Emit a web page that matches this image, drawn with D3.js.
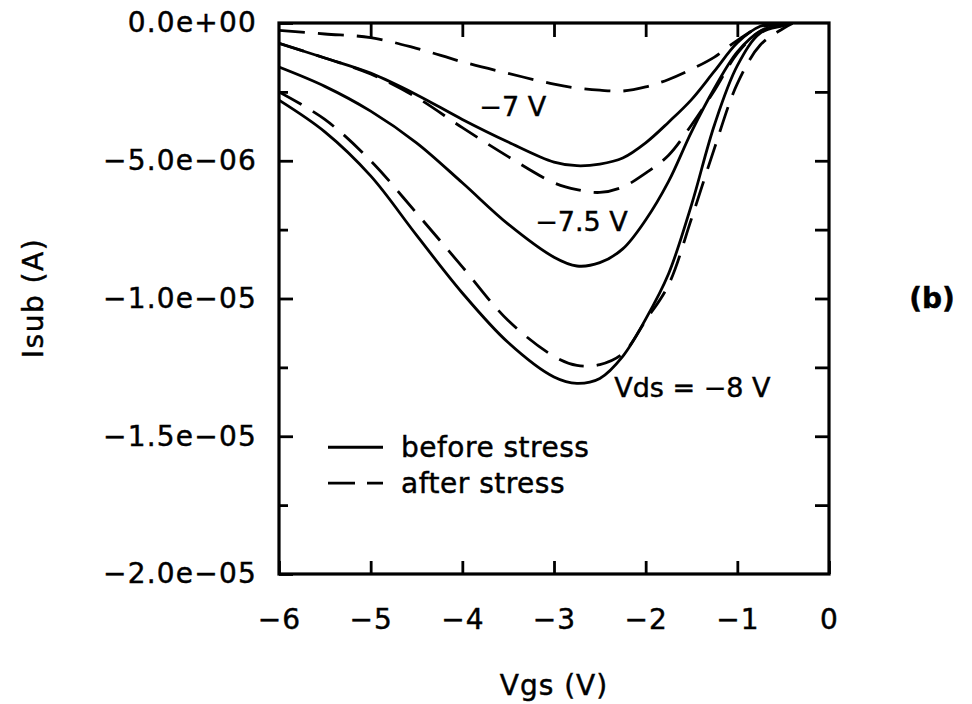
<!DOCTYPE html>
<html>
<head>
<meta charset="utf-8">
<script src="https://cdn.jsdelivr.net/npm/d3@7"></script>
<style>
  body { margin: 0; background: #fff; }
  text { font-family: "DejaVu Sans", sans-serif; fill: #000; stroke: #000; stroke-width: 0.45; }
</style>
</head>
<body>
<script>
// Vgs sample points (V)
var vgs = [-6, -5.5, -5, -4.5, -4, -3.5, -3, -2.75, -2.5, -2.25, -2, -1.75, -1.5, -1.25, -1, -0.75, -0.5, -0.4];

// Isub in microamps
var before7  = [-0.74, -1.27, -1.82, -2.6, -3.5, -4.32, -5.05, -5.18, -5.12, -4.9, -4.35, -3.6, -2.78, -1.75, -0.72, -0.12, -0.03, 0];
var after7   = [-0.27, -0.4, -0.53, -0.92, -1.41, -1.83, -2.22, -2.36, -2.44, -2.47, -2.32, -2.05, -1.68, -1.24, -0.63, -0.15, -0.05, 0];
var before75 = [-1.6, -2.3, -3.2, -4.35, -5.8, -7.3, -8.5, -8.82, -8.7, -8.2, -7.15, -5.75, -3.95, -2.37, -1.05, -0.3, -0.05, 0];
var after75  = [-0.74, -1.27, -1.85, -2.7, -3.8, -4.85, -5.8, -6.05, -6.15, -5.95, -5.45, -4.8, -3.7, -2.45, -1.1, -0.3, -0.04, 0];
var before8  = [-2.8, -3.95, -5.55, -7.7, -9.8, -11.6, -12.85, -13.08, -12.9, -12.1, -10.75, -9.1, -6.6, -3.7, -1.55, -0.37, -0.1, 0];
var after8   = [-2.5, -3.5, -5.0, -6.9, -8.85, -10.8, -12.1, -12.43, -12.4, -12.0, -10.8, -9.5, -7.1, -4.55, -2.2, -0.8, -0.2, -0.02];

var xTicks = [-6, -5, -4, -3, -2, -1, 0];
var yMajor = [0, -5e-6, -1e-5, -1.5e-5, -2e-5];
var yMinor = [-2.5e-6, -7.5e-6, -1.25e-5, -1.75e-5];

var series = [
  {vals: after7, dash: true}, {vals: before7, dash: false},
  {vals: after75, dash: true}, {vals: before75, dash: false},
  {vals: after8, dash: true}, {vals: before8, dash: false}
];

var labels = [
  {text: '\u22127 V', v: -3.45, i: -3.05e-6},
  {text: '\u22127.5 V', v: -2.7, i: -7.2e-6},
  {text: 'Vds  =  \u22128 V', v: -1.49, i: -13.25e-6}
];

var W = 972, H = 704;
var padL = 279, padR = 829, padT = 23, padB = 574;

var svg = d3.select('body').append('svg').attr('width', W).attr('height', H);

var x = d3.scaleLinear().domain([-6, 0]).range([padL, padR]);
var y = d3.scaleLinear().domain([-2e-5, 0]).range([padB, padT]);

function sciFmt(v) {
  if (v === 0) return '0.0e+00';
  var s = d3.format('.1e')(Math.abs(v));
  var parts = s.split('e');
  var ex = parseInt(parts[1], 10);
  var es = (ex < 0 ? '\u2212' : '+') + String(Math.abs(ex)).padStart(2, '0');
  return (v < 0 ? '\u2212' : '') + parts[0] + 'e' + es;
}

svg.append('clipPath').attr('id', 'clip')
  .append('rect').attr('x', padL).attr('y', padT).attr('width', padR - padL).attr('height', padB - padT);

// curves
var line = d3.line()
  .x(function(d) { return x(d[0]); })
  .y(function(d) { return y(d[1] * 1e-6); })
  .curve(d3.curveCatmullRom.alpha(0.5));

var curves = svg.append('g').attr('clip-path', 'url(#clip)');
series.forEach(function(s) {
  curves.append('path')
    .attr('d', line(vgs.map(function(v, i) { return [v, s.vals[i]]; })))
    .attr('fill', 'none')
    .attr('stroke', '#000')
    .attr('stroke-width', 2.8)
    .attr('stroke-dasharray', s.dash ? '26,13' : null);
});

// frame
svg.append('rect')
  .attr('x', padL).attr('y', padT).attr('width', padR - padL).attr('height', padB - padT)
  .attr('fill', 'none').attr('stroke', '#000').attr('stroke-width', 3.2);

// x axis with inner ticks, mirrored on top
var xAxis = svg.append('g').attr('transform', 'translate(0,' + padB + ')')
  .call(d3.axisBottom(x).tickValues(xTicks).tickSizeInner(-13).tickSizeOuter(0).tickPadding(35).tickFormat(function(d) { return d === 0 ? '0' : '\u2212' + Math.abs(d); }));
xAxis.select('.domain').remove();
xAxis.selectAll('line').attr('stroke-width', 2.8);
xAxis.selectAll('text').attr('font-size', 28).attr('font-family', 'DejaVu Sans').attr('letter-spacing', 1);

var xTop = svg.append('g').attr('transform', 'translate(0,' + padT + ')')
  .call(d3.axisTop(x).tickValues(xTicks.slice(1, -1)).tickSizeInner(-14).tickSizeOuter(0).tickFormat(''));
xTop.select('.domain').remove();
xTop.selectAll('line').attr('stroke-width', 2.8);

// y axis
var yAxis = svg.append('g').attr('transform', 'translate(' + padL + ',0)')
  .call(d3.axisLeft(y).tickValues(yMajor).tickSizeInner(-14).tickSizeOuter(0).tickPadding(22).tickFormat(sciFmt));
yAxis.select('.domain').remove();
yAxis.selectAll('line').attr('stroke-width', 2.8);
yAxis.selectAll('text').attr('font-size', 28).attr('font-family', 'DejaVu Sans').attr('letter-spacing', 1.2);

var yMin = svg.append('g').attr('transform', 'translate(' + padL + ',0)')
  .call(d3.axisLeft(y).tickValues(yMinor).tickSizeInner(-9).tickSizeOuter(0).tickFormat(''));
yMin.select('.domain').remove();
yMin.selectAll('line').attr('stroke-width', 2.8);

var yRight = svg.append('g').attr('transform', 'translate(' + padR + ',0)')
  .call(d3.axisRight(y).tickValues(yMajor.slice(1, -1).concat(yMinor)).tickSizeInner(-14).tickSizeOuter(0).tickFormat(''));
yRight.select('.domain').remove();
yRight.selectAll('line').attr('stroke-width', 2.8);

// axis titles
svg.append('text')
  .attr('x', x(-3)).attr('y', 685).attr('dy', '0.35em')
  .attr('text-anchor', 'middle').attr('font-size', 28).attr('letter-spacing', 1)
  .text('Vgs (V)');

svg.append('text')
  .attr('transform', 'translate(33,298) rotate(-90)')
  .attr('dy', '0.35em')
  .attr('text-anchor', 'middle').attr('font-size', 28).attr('letter-spacing', 1.5)
  .text('Isub (A)');

svg.append('text')
  .attr('x', 932).attr('y', 298).attr('dy', '0.35em')
  .attr('text-anchor', 'middle').attr('font-size', 28).attr('font-weight', 'bold')
  .text('(b)');

// curve labels
labels.forEach(function(l) {
  svg.append('text')
    .attr('x', x(l.v)).attr('y', y(l.i)).attr('dy', '0.35em')
    .attr('text-anchor', 'middle').attr('font-size', 27)
    .text(l.text);
});

// legend
var legend = [
  {text: 'before stress', dash: false, i: -1.54e-5},
  {text: 'after stress', dash: true, i: -1.67e-5}
];
legend.forEach(function(d) {
  svg.append('line')
    .attr('x1', 328).attr('x2', 383)
    .attr('y1', y(d.i)).attr('y2', y(d.i))
    .attr('stroke', '#000').attr('stroke-width', 2.8)
    .attr('stroke-dasharray', d.dash ? '27,12' : null);
  svg.append('text')
    .attr('x', 401).attr('y', y(d.i)).attr('dy', '0.35em')
    .attr('font-size', 28).attr('letter-spacing', 0.5)
    .text(d.text);
});
</script>
</body>
</html>
